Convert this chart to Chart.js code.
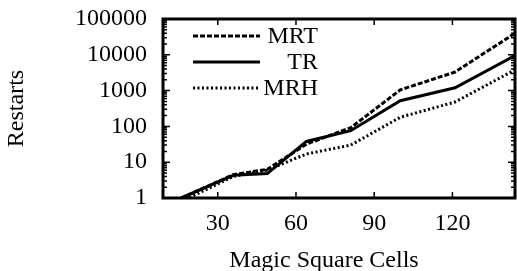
<!DOCTYPE html>
<html>
<head>
<meta charset="utf-8">
<script src="https://cdn.jsdelivr.net/npm/chart.js@4.4.0/dist/chart.umd.min.js"></script>
<style>
  html, body { margin: 0; padding: 0; background: #fff; }
  #wrap { width: 517px; height: 271px; }
</style>
</head>
<body>
<div id="wrap"><canvas id="chart" width="517" height="271"></canvas></div>
<script>
// magic square sizes (cells) and restarts per method
const cells = [16, 36, 49, 64, 81, 100, 121, 144];
const mrt = [1, 4.5, 6.3, 32, 92, 1050, 3300, 40000];
const tr = [1, 4.3, 4.8, 38, 76, 520, 1200, 9500];
const mrh = [0.8, 4, 6, 17, 30, 180, 480, 3800];

const xTicks = [30, 60, 90, 120];
const yTicks = [1, 10, 100, 1000, 10000, 100000];

const FONT = "'Liberation Serif', 'Times New Roman', serif";
const FSIZE = 24;

const series = [
  { label: 'MRT', data: mrt, dash: [5, 2] },
  { label: 'TR', data: tr, dash: [] },
  { label: 'MRH', data: mrh, dash: [2, 2.5] }
];

// gnuplot-ish frame: thick border, inward ticks on all sides, legend top-left
const framePlugin = {
  id: 'frame',
  afterDatasetsDraw(chart) {
    const { ctx, chartArea: a, scales: { x, y } } = chart;
    ctx.save();
    ctx.strokeStyle = '#000';
    ctx.lineWidth = 1.5;
    ctx.beginPath();
    xTicks.forEach(v => {
      const px = x.getPixelForValue(v);
      ctx.moveTo(px, a.bottom); ctx.lineTo(px, a.bottom - 6);
      ctx.moveTo(px, a.top); ctx.lineTo(px, a.top + 6);
    });
    yTicks.forEach(v => {
      const py = y.getPixelForValue(v);
      ctx.moveTo(a.left, py); ctx.lineTo(a.left + 7, py);
      ctx.moveTo(a.right, py); ctx.lineTo(a.right - 7, py);
    });
    for (let d = 1; d < 100000; d *= 10) {
      for (let k = 2; k <= 9; k++) {
        const py = y.getPixelForValue(d * k);
        ctx.moveTo(a.left, py); ctx.lineTo(a.left + 4, py);
        ctx.moveTo(a.right, py); ctx.lineTo(a.right - 4, py);
      }
    }
    ctx.stroke();
    ctx.lineWidth = 3;
    ctx.strokeRect(a.left, a.top, a.right - a.left, a.bottom - a.top);

    ctx.font = FSIZE + 'px ' + FONT;
    ctx.fillStyle = '#000';
    ctx.textBaseline = 'middle';

    // x axis title (sits left of the plot centre in the original)
    ctx.textAlign = 'center';
    ctx.fillText('Magic Square Cells', 324, 261);

    // legend
    ctx.textAlign = 'right';
    series.forEach((s, i) => {
      const ly = a.top + 17 + i * 26;
      ctx.beginPath();
      ctx.setLineDash(s.dash);
      ctx.lineWidth = 3;
      ctx.moveTo(a.left + 30, ly);
      ctx.lineTo(a.left + 97, ly);
      ctx.stroke();
      ctx.setLineDash([]);
      ctx.fillText(s.label, a.left + 155, ly + 1);
    });
    ctx.restore();
  }
};

const noPad = s => { s.paddingTop = 0; s.paddingBottom = 0; s.paddingLeft = 0; s.paddingRight = 0; };

new Chart(document.getElementById('chart'), {
  type: 'line',
  data: {
    datasets: series.map(s => ({
      label: s.label,
      data: cells.map((c, i) => ({ x: c, y: s.data[i] })),
      borderColor: '#000',
      borderWidth: 3,
      borderDash: s.dash,
      pointRadius: 0,
      tension: 0,
      fill: false
    }))
  },
  options: {
    responsive: false,
    animation: false,
    devicePixelRatio: 1,
    layout: { padding: { top: 19, right: 2, left: 0, bottom: 0 } },
    plugins: { legend: { display: false }, tooltip: { enabled: false } },
    scales: {
      x: {
        type: 'linear',
        min: 9,
        max: 144,
        afterBuildTicks: s => { s.ticks = xTicks.map(v => ({ value: v })); },
        afterFit: s => { s.height = 73; noPad(s); },
        grid: { display: false, drawTicks: false },
        border: { display: false },
        ticks: { color: '#000', font: { family: FONT, size: FSIZE }, padding: 11, maxRotation: 0 },
        title: { display: false }
      },
      y: {
        type: 'logarithmic',
        min: 1,
        max: 100000,
        afterBuildTicks: s => { s.ticks = yTicks.map(v => ({ value: v })); },
        afterFit: s => { s.width = 163; noPad(s); },
        grid: { display: false, drawTicks: false },
        border: { display: false },
        ticks: { color: '#000', font: { family: FONT, size: FSIZE }, padding: 16, callback: v => String(v) },
        title: { display: true, text: 'Restarts', color: '#000', font: { family: FONT, size: FSIZE, lineHeight: 1.42 }, padding: { top: 0, bottom: 0 } }
      }
    }
  },
  plugins: [framePlugin]
});
</script>
</body>
</html>
